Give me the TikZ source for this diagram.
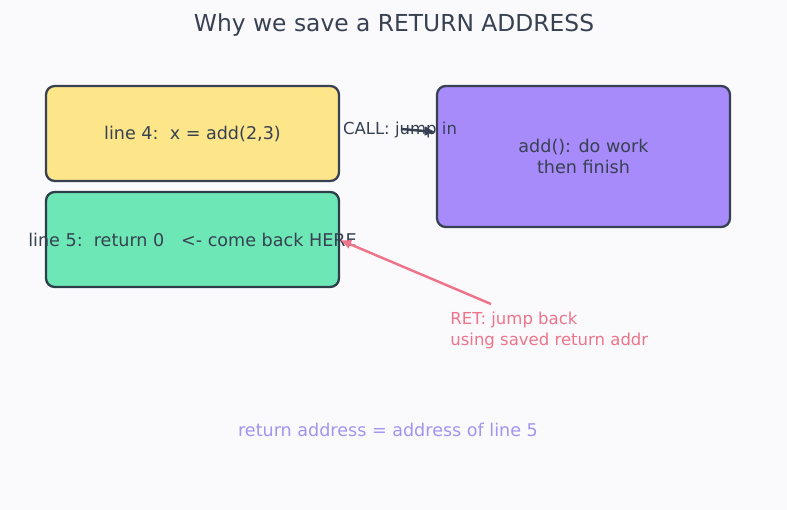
\documentclass[tikz,border=0pt]{standalone}
\usepackage{fontspec}
\setmainfont{DejaVu Sans}
\usepackage{xcolor}
\usetikzlibrary{arrows.meta,positioning,calc}
\definecolor{pagebg}{HTML}{FAFAFD}
\definecolor{inkdark}{HTML}{374151}
\definecolor{linegreen}{HTML}{2D3E4A}
\definecolor{boxyellow}{HTML}{FDE68A}
\definecolor{boxgreen}{HTML}{6EE7B7}
\definecolor{boxpurple}{HTML}{A78BFA}
\definecolor{retpink}{HTML}{EE7489}
\definecolor{notepurple}{HTML}{A394F0}
\tikzset{
  codebox/.style={draw=inkdark,line width=1.3pt,rounded corners=5pt,align=center,
    minimum width=293*0.02cm,minimum height=95*0.02cm,font=\fontsize{10}{11.9}\selectfont,
    text=inkdark,inner sep=0pt},
  funcbox/.style={codebox,minimum height=141*0.02cm,fill=boxpurple},
  callarrow/.style={-{Latex[length=2.2mm,width=2mm]},line width=1.4pt,draw=inkdark},
  retarrow/.style={-{Latex[length=2.2mm,width=2mm]},line width=1.4pt,draw=retpink},
  figurelabel/.style={font=\fontsize{10}{11.9}\selectfont,align=center},
  edgelabel/.style={font=\fontsize{9.4}{11.9}\selectfont,align=left}
}
\begin{document}
\begin{tikzpicture}[x=0.02cm,y=-0.02cm]
  \useasboundingbox[fill=pagebg] (0,0) rectangle (787,510);
  \node[figurelabel,font=\fontsize{13.3}{15}\selectfont,text=inkdark] (title) at (394,25.5) {Why we save a RETURN ADDRESS};
  \node[codebox,fill=boxyellow] (line4) at (192.5,133.5) {line 4:\ \ x = add(2,3)};
  \node[codebox,fill=boxgreen,draw=linegreen] (line5) at (192.5,239.5) {};
  \node[figurelabel,text=inkdark] (line5text) at (192.5,239.5) {line 5:\ \ return 0\ \ \ <- come back HERE};
  \node[funcbox] (addfn) at (583.5,156.5) {add(): do work\\then finish};
  % call into the function
  \coordinate (callstart) at (401,129);
  \draw[callarrow] (callstart) -- (addfn.west |- 0,132);
  \node[edgelabel,text=inkdark] (calllabel) at (400,129.5) {CALL: jump in};
  % return to saved address
  \coordinate (retstart) at (491,304);
  \draw[retarrow] (retstart) -- (line5.east |- 0,240);
  \node[edgelabel,anchor=north west,inner sep=0pt,text=retpink] (retlabel) at (450,312) {RET: jump back\\using saved return addr};
  \node[figurelabel,text=notepurple] (note) at (388,430) {return address = address of line 5};
\end{tikzpicture}
\end{document}
